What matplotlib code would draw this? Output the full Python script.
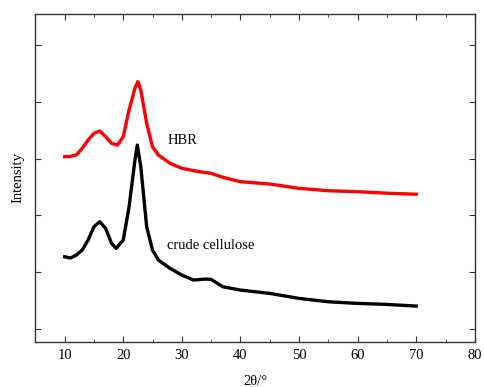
import matplotlib
matplotlib.use('Agg')
from matplotlib import pyplot as plt
from matplotlib.ticker import MultipleLocator

plt.rcParams['font.family'] = ['Liberation Serif', 'DejaVu Serif']

# 2θ 读数 (°)
two_theta = [10, 11, 12, 13, 14, 15, 16, 17, 18, 18.8, 20, 21, 22, 22.4, 23, 24, 25, 26,
             28, 30, 32, 34, 35, 37, 40, 45, 50, 55, 60, 65, 70]
# crude cellulose 强度 (任意单位)
crude = [2273, 2250, 2303, 2391, 2567, 2801, 2889, 2772, 2509, 2421, 2567, 3153, 3975, 4239, 3857,
         2801, 2391, 2215, 2068, 1951, 1863, 1880, 1875, 1745, 1687, 1628, 1540, 1481, 1452, 1434, 1405]
# 红色曲线的2θ读数
two_theta_hbr = [10, 11, 12, 13, 14, 15, 16, 17, 18, 19, 20, 21, 22, 22.5, 23, 24, 25, 26,
                 28, 30, 33, 35, 37, 40, 45, 50, 55, 60, 65, 70]
# HBR 强度
hbr = [4033, 4040, 4063, 4181, 4327, 4445, 4486, 4386, 4269, 4239, 4386, 4856, 5238, 5354, 5208,
       4621, 4210, 4063, 3917, 3829, 3770, 3741, 3671, 3594, 3553, 3477, 3435, 3418, 3391, 3373]

fig = plt.figure(figsize=(4.84, 3.87), dpi=100)
ax = fig.add_axes([0.073, 0.116, 0.908, 0.848])

ax.plot(two_theta_hbr, hbr, color='red', lw=2.4)
ax.plot(two_theta, crude, color='black', lw=2.4)

ax.text(27.6, 4327, 'HBR', fontsize=10.5, va='center')
ax.text(27.5, 2479, 'crude cellulose', fontsize=10.5, va='center')

ax.set_xlim(5, 80)
ax.set_ylim(771, 6546)
ax.xaxis.set_major_locator(MultipleLocator(10))
ax.xaxis.set_minor_locator(MultipleLocator(5))
ax.yaxis.set_major_locator(MultipleLocator(1000))
ax.tick_params(which='both', direction='in', top=True, right=True, labelsize=10.5, color='#333333')
ax.tick_params(which='major', length=4, pad=5)
ax.tick_params(which='minor', length=2)
ax.tick_params(axis='y', labelleft=False)
for s in ax.spines.values():
    s.set_color('#333333')
    s.set_linewidth(1.0)

ax.set_xlabel('2θ/°', fontsize=10.5, labelpad=9)
ax.set_ylabel('Intensity', fontsize=10.5, labelpad=8)

fig.savefig('out.png', dpi=100)
